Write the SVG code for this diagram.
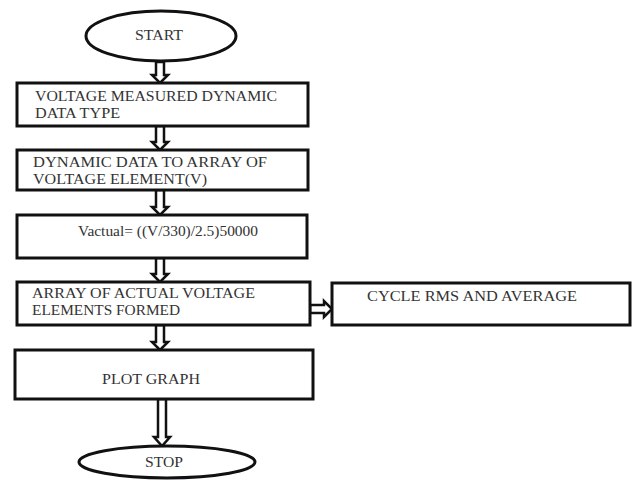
<svg xmlns="http://www.w3.org/2000/svg" width="635" height="481" viewBox="0 0 635 481">
<style>
.box{fill:#fff;stroke:#111;stroke-width:3}
.arr{fill:#fff;stroke:#111;stroke-width:2.5;stroke-linejoin:miter}
.t{font-family:"Liberation Serif","DejaVu Serif",serif;font-size:14px;fill:#333}
</style>
<rect width="635" height="481" fill="#fff"/>
<g id="connectors">
<path class="arr" d="M156,62 H164 V75 H168 L160,83 L152,75 H156 Z"/>
<path class="arr" d="M156,126 H164 V142 H168 L160,150 L152,142 H156 Z"/>
<path class="arr" d="M156,190 H164 V207 H168 L160,215 L152,207 H156 Z"/>
<path class="arr" d="M156,258 H164 V274 H168 L160,282 L152,274 H156 Z"/>
<path class="arr" d="M310,305 V313 H324 V317 L332,309 L324,301 V305 Z"/>
<path class="arr" d="M156,325 H164 V342 H168 L160,350 L152,342 H156 Z"/>
<path class="arr" d="M158,399 H166 V437 H170 L162,446 L154,437 H158 Z"/>
</g>
<g id="start">
<ellipse class="box" cx="161" cy="36" rx="75" ry="25"/>
<text class="t" x="135" y="40" textLength="48" lengthAdjust="spacingAndGlyphs">START</text>
</g>
<g id="voltage-measured">
<rect class="box" x="17" y="83" width="291" height="43"/>
<text class="t" x="35" y="101" textLength="242" lengthAdjust="spacingAndGlyphs">VOLTAGE MEASURED DYNAMIC</text>
<text class="t" x="35" y="118" textLength="85" lengthAdjust="spacingAndGlyphs">DATA TYPE</text>
</g>
<g id="dynamic-data">
<rect class="box" x="17" y="150" width="291" height="40"/>
<text class="t" x="33" y="167" textLength="234" lengthAdjust="spacingAndGlyphs">DYNAMIC DATA TO ARRAY OF</text>
<text class="t" x="33" y="184" textLength="174" lengthAdjust="spacingAndGlyphs">VOLTAGE ELEMENT(V)</text>
</g>
<g id="vactual">
<rect class="box" x="17" y="215" width="290" height="43"/>
<text class="t" x="78" y="236" textLength="180" lengthAdjust="spacingAndGlyphs">Vactual= ((V/330)/2.5)50000</text>
</g>
<g id="array-actual">
<rect class="box" x="17" y="282" width="293" height="43"/>
<text class="t" x="32" y="298" textLength="223" lengthAdjust="spacingAndGlyphs">ARRAY OF ACTUAL VOLTAGE</text>
<text class="t" x="32" y="315" textLength="148" lengthAdjust="spacingAndGlyphs">ELEMENTS FORMED</text>
</g>
<g id="cycle-rms">
<rect class="box" x="332" y="283" width="298" height="42"/>
<text class="t" x="367" y="301" textLength="210" lengthAdjust="spacingAndGlyphs">CYCLE RMS AND AVERAGE</text>
</g>
<g id="plot-graph">
<rect class="box" x="15" y="350" width="298" height="49"/>
<text class="t" x="102" y="384" textLength="98" lengthAdjust="spacingAndGlyphs">PLOT GRAPH</text>
</g>
<g id="stop">
<ellipse class="box" cx="167" cy="462" rx="88" ry="16"/>
<text class="t" x="145" y="467" textLength="38" lengthAdjust="spacingAndGlyphs">STOP</text>
</g>
</svg>
